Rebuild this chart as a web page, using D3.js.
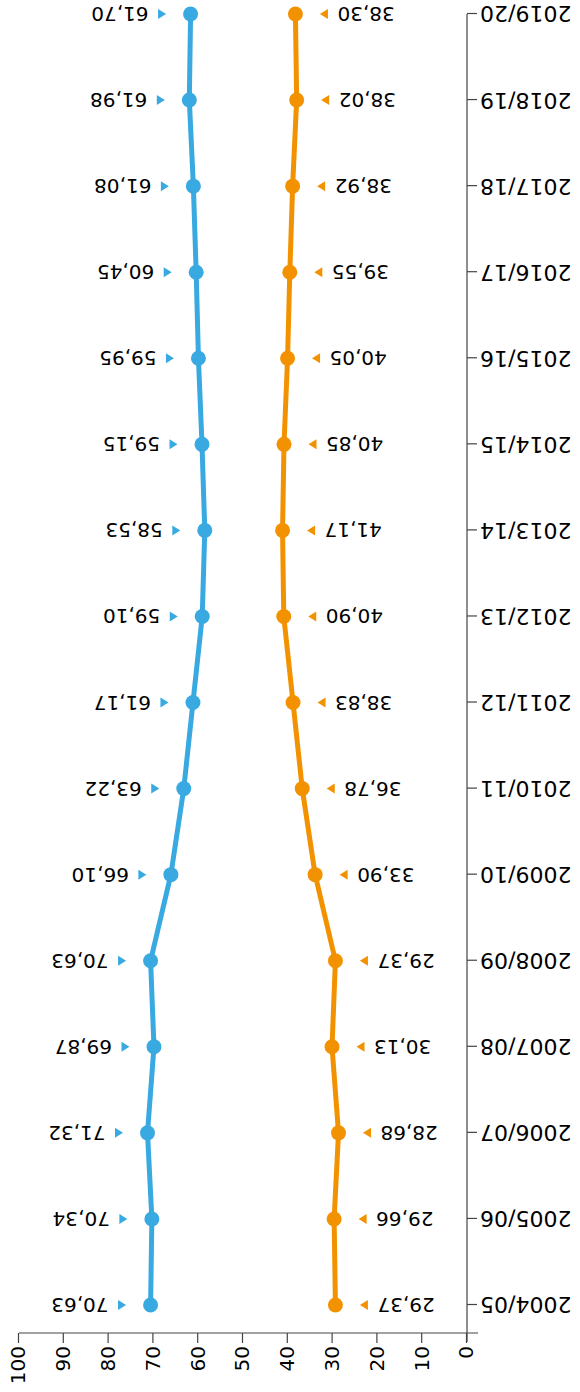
<!DOCTYPE html>
<html>
<head>
<meta charset="utf-8">
<script src="https://cdn.jsdelivr.net/npm/d3@7"></script>
<style>
  body { margin: 0; background: #fff; }
  svg { display: block; font-family: "DejaVu Sans", sans-serif; }
</style>
</head>
<body>
<div id="chart"></div>
<script>
var years = ["2004/05", "2005/06", "2006/07", "2007/08", "2008/09", "2009/10", "2010/11", "2011/12",
             "2012/13", "2013/14", "2014/15", "2015/16", "2016/17", "2017/18", "2018/19", "2019/20"];
var blueValues = [70.63, 70.34, 71.32, 69.87, 70.63, 66.10, 63.22, 61.17,
                  59.10, 58.53, 59.15, 59.95, 60.45, 61.08, 61.98, 61.70];
var orangeValues = [29.37, 29.66, 28.68, 30.13, 29.37, 33.90, 36.78, 38.83,
                    40.90, 41.17, 40.85, 40.05, 39.55, 38.92, 38.02, 38.30];
var valueTicks = [0, 10, 20, 30, 40, 50, 60, 70, 80, 90, 100];

var width = 580, height = 1392;
var blue = "#39a9e1", orange = "#f39200";

var fmt = d3.formatLocale({decimal: ",", thousands: ".", grouping: [3], currency: ["", ""]}).format(".2f");

// chart is drawn upright and then turned upside down as a whole
var svg = d3.select("#chart").append("svg")
    .attr("width", width)
    .attr("height", height);

var g = svg.append("g")
    .attr("transform", "rotate(180," + width / 2 + "," + height / 2 + ")");

var axisY = 59;

var x = d3.scaleLinear().domain([0, 100]).range([113, 561]);
var y = d3.scalePoint().domain(years).range([87, 1378]);

// value axis (top)
var xAxis = g.append("g")
    .attr("transform", "translate(0," + axisY + ")")
    .call(d3.axisTop(x).tickValues(valueTicks).tickSize(10).tickSizeOuter(0));
xAxis.select(".domain").attr("d", "M" + (x(0) - 11) + ",0H" + x(100));
xAxis.selectAll(".tick text")
    .attr("transform", "rotate(90)")
    .attr("x", -13)
    .attr("y", 0)
    .attr("dy", "0.34em")
    .style("text-anchor", "end")
    .style("font-size", "20px");

// category axis (left)
var yAxis = g.append("g")
    .attr("transform", "translate(" + x(0) + ",0)")
    .call(d3.axisLeft(y).tickSize(10).tickSizeOuter(0));
yAxis.select(".domain").attr("d", "M0," + (axisY - 9) + "V" + y(years[years.length - 1]));
yAxis.selectAll(".tick text").style("font-size", "22px");

g.selectAll(".domain, .tick line").attr("stroke", "#444").attr("stroke-width", 1.2);
g.selectAll(".tick text").attr("fill", "#000").style("font-family", "DejaVu Sans, sans-serif");

var series = [
  {name: "blue", values: blueValues, color: blue, side: 1},
  {name: "orange", values: orangeValues, color: orange, side: -1}
];

var line = d3.line()
    .x(function(d) { return x(d.v); })
    .y(function(d) { return y(d.cat); });

series.forEach(function(s) {
  var data = years.map(function(c, i) { return {cat: c, v: s.values[i]}; });

  g.append("path")
      .datum(data)
      .attr("fill", "none")
      .attr("stroke", s.color)
      .attr("stroke-width", 5)
      .attr("stroke-linejoin", "round")
      .attr("d", line);

  g.selectAll(".dot-" + s.name)
      .data(data)
    .enter().append("circle")
      .attr("class", "dot-" + s.name)
      .attr("cx", function(d) { return x(d.v); })
      .attr("cy", function(d) { return y(d.cat); })
      .attr("r", 7.5)
      .attr("fill", s.color);

  // small pointer triangle towards the point
  g.selectAll(".tri-" + s.name)
      .data(data)
    .enter().append("path")
      .attr("class", "tri-" + s.name)
      .attr("fill", s.color)
      .attr("d", function(d) {
        var cx = x(d.v) + s.side * 28.5, cy = y(d.cat);
        var tip = cx - s.side * 4, base = cx + s.side * 4;
        return "M" + tip + "," + cy + "L" + base + "," + (cy - 5) + "L" + base + "," + (cy + 5) + "Z";
      });

  g.selectAll(".lbl-" + s.name)
      .data(data)
    .enter().append("text")
      .attr("class", "lbl-" + s.name)
      .attr("x", function(d) { return x(d.v) + s.side * 42; })
      .attr("y", function(d) { return y(d.cat); })
      .attr("dy", "0.35em")
      .attr("text-anchor", s.side > 0 ? "start" : "end")
      .style("font-size", "20px")
      .attr("fill", "#000")
      .text(function(d) { return fmt(d.v); });
});
</script>
</body>
</html>
